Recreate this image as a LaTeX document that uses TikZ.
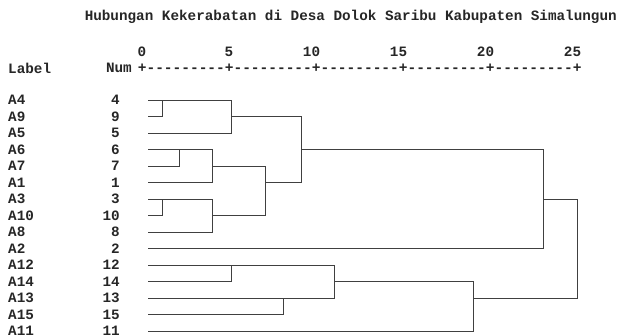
\documentclass[tikz,border=0pt]{standalone}
\usepackage{fontspec}
\setmonofont{Liberation Mono}
\begin{document}
\begin{tikzpicture}[x=1pt,y=-1pt,
  txt/.style={font=\ttfamily\bfseries\fontsize{14.3}{14.3}\selectfont, inner sep=0pt, text=black!85},
  lbl/.style={txt, anchor=west},
  num/.style={txt, anchor=east},
  link/.style={draw=black!75, line width=1pt}]
\useasboundingbox (0,0) rectangle (618,335);
% title and axis
\node[txt, anchor=east] (title) at (617,17) {Hubungan Kekerabatan di Desa Dolok Saribu Kabupaten Simalungun};
\node[lbl] (hlabel) at (8,68) {Label};
\node[num] (hnum) at (132,68) {Num};
\node[txt, anchor=west, font=\ttfamily\bfseries\fontsize{14.5}{14.5}\selectfont] (axis) at (137.65,68) {+---------+---------+---------+---------+---------+};
\foreach \v/\k in {0/0,5/1,10/2,15/3,20/4,25/5}{
  \node[num] (t\v) at ({142+87*\k+4.3},52) {\v};
}
% leaves
\foreach \lab/\n/\i in {A4/4/0,A9/9/1,A5/5/2,A6/6/3,A7/7/4,A1/1/5,A3/3/6,A10/10/7,A8/8/8,A2/2/9,A12/12/10,A14/14/11,A13/13/12,A15/15/13,A11/11/14}{
  \node[lbl] (lab\n) at (8,{100+16.5*\i}) {\lab};
  \node[num] (n\n) at (120,{100+16.5*\i}) {\n};
  \coordinate (l\n) at (148,{100+16.5*\i});
}
% merge points
\coordinate (m49) at (162,{100+16.5*0});
\coordinate (m495) at (231,{100+16.5*1});
\coordinate (m67) at (179,{100+16.5*3});
\coordinate (m671) at (212,{100+16.5*4});
\coordinate (m310) at (162,{100+16.5*6});
\coordinate (m3108) at (212,{100+16.5*7});
\coordinate (mB) at (265,{100+16.5*5});
\coordinate (mTop) at (301,{100+16.5*3});
\coordinate (mA2) at (543,{100+16.5*6});
\coordinate (m1214) at (231,{100+16.5*10});
\coordinate (m1315) at (283,{100+16.5*12});
\coordinate (mC) at (334,{100+16.5*11});
\coordinate (mD) at (473,{100+16.5*12});
\coordinate (mRoot) at (577,{100+16.5*9});
% connectors
\draw[link] (l9) -| (m49);
\draw[link] (l4) -| (m495);
\draw[link] (l5) -| (m495);
\draw[link] (m495) -| (mTop);
\draw[link] (l7) -| (m67);
\draw[link] (l6) -| (m671);
\draw[link] (l1) -| (m671);
\draw[link] (m671) -| (mB);
\draw[link] (l10) -| (m310);
\draw[link] (l3) -| (m3108);
\draw[link] (l8) -| (m3108);
\draw[link] (m3108) -| (mB);
\draw[link] (mB) -| (mTop);
\draw[link] (mTop) -| (mA2);
\draw[link] (l2) -| (mA2);
\draw[link] (mA2) -| (mRoot);
\draw[link] (l14) -| (m1214);
\draw[link] (l12) -| (mC);
\draw[link] (l15) -| (m1315);
\draw[link] (l13) -| (mC);
\draw[link] (mC) -| (mD);
\draw[link] (l11) -| (mD);
\draw[link] (mD) -| (mRoot);
\end{tikzpicture}
\end{document}
